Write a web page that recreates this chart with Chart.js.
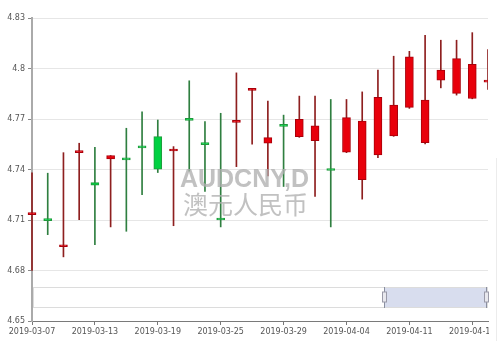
<!DOCTYPE html>
<html>
<head>
<meta charset="utf-8">
<script src="https://cdn.jsdelivr.net/npm/chart.js@4/dist/chart.umd.min.js"></script>
<style>
  html, body { margin: 0; padding: 0; background: #fff; }
  #wrap { width: 500px; height: 341px; position: relative; }
</style>
</head>
<body>
<div id="wrap"><canvas id="c" width="500" height="341"></canvas></div>
<script>
// ---- data ----
const dates = ['2019-03-07','2019-03-08','2019-03-11','2019-03-12','2019-03-13','2019-03-14','2019-03-15',
  '2019-03-18','2019-03-19','2019-03-20','2019-03-21','2019-03-22','2019-03-25','2019-03-26','2019-03-27',
  '2019-03-28','2019-03-29','2019-04-01','2019-04-02','2019-04-03','2019-04-04','2019-04-08','2019-04-09',
  '2019-04-10','2019-04-11','2019-04-12','2019-04-15','2019-04-16','2019-04-17','2019-04-18'];
const openValues  = [4.7132,4.7100,4.6941,4.7500,4.7323,4.7463,4.7469,4.7532,4.7595,4.7510,4.7696,4.7552,4.7104,4.7680,4.7870,
  4.7556,4.7660,4.7595,4.7571,4.7398,4.7503,4.7339,4.7487,4.7599,4.7769,4.7560,4.7931,4.7852,4.7822,4.7919];
const closeValues = [4.7138,4.7096,4.6946,4.7505,4.7307,4.7483,4.7457,4.7528,4.7402,4.7514,4.7692,4.7548,4.7100,4.7684,4.7874,
  4.7589,4.7656,4.7698,4.7660,4.7394,4.7708,4.7688,4.7828,4.7783,4.8069,4.7812,4.7990,4.8059,4.8025,4.7923];
const lowValues   = [4.6800,4.7013,4.6881,4.7102,4.6954,4.7059,4.7033,4.7250,4.7382,4.7066,4.7390,4.7270,4.7059,4.7417,4.7550,
  4.7362,4.7299,4.7591,4.7240,4.7059,4.7500,4.7224,4.7471,4.7597,4.7763,4.7552,4.7885,4.7842,4.7820,4.7876];
const highValues  = [4.7380,4.7378,4.7500,4.7556,4.7532,4.7483,4.7645,4.7743,4.7694,4.7536,4.7927,4.7684,4.7734,4.7974,4.7876,
  4.7806,4.7723,4.7836,4.7836,4.7816,4.7816,4.7861,4.7990,4.8073,4.8102,4.8197,4.8168,4.8168,4.8213,4.8112];
const yTicks = [4.65, 4.68, 4.71, 4.74, 4.77, 4.8, 4.83];
const watermarkLines = ['AUDCNY,D', '澳元人民币'];

// ---- styling ----
const UP_FILL = '#e8000b', UP_EDGE = '#a8000a', UP_WICK = '#8e1f1f';
const DN_FILL = '#00d041', DN_EDGE = '#1f9a3c', DN_WICK = '#2f7f40';
const isUp = i => closeValues[i] >= openValues[i];

const bodies = dates.map((d, i) => [openValues[i], closeValues[i]]);
const wicks = dates.map((d, i) => [lowValues[i], highValues[i]]);

const overlay = {
  id: 'overlay',
  afterDatasetsDraw(chart) {
    const ctx = chart.ctx, a = chart.chartArea;
    ctx.save();
    ctx.fillStyle = 'rgba(175,175,175,0.78)';
    ctx.textAlign = 'center';
    ctx.textBaseline = 'alphabetic';
    const cx = a.left + (a.right - a.left) * 0.466;
    ctx.font = 'bold 25px "Liberation Sans", Arial, sans-serif';
    ctx.fillText(watermarkLines[0], cx, a.top + 169);
    ctx.font = '25px "Noto Sans CJK SC", sans-serif';
    ctx.textBaseline = 'middle';
    ctx.fillText(watermarkLines[1], cx + 1, a.top + 186);
    ctx.restore();
  },
  afterDraw(chart) {
    const ctx = chart.ctx, a = chart.chartArea;
    ctx.save();
    // dataZoom slider
    const top = a.top + 269, h = 20;
    const L = a.left + 1, R = a.right;
    ctx.strokeStyle = '#dcdcdc';
    ctx.lineWidth = 1;
    ctx.strokeRect(L + 0.5, top + 0.5, R - L - 1, h);
    const fl = a.left + (a.right - a.left) * 0.772;
    const fr = a.left + (a.right - a.left) * 0.996;
    ctx.fillStyle = 'rgba(190,198,226,0.6)';
    ctx.fillRect(fl, top + 1, fr - fl, h - 1);
    ctx.strokeStyle = '#8a8fa0';
    [fl, fr].forEach(x => {
      ctx.beginPath();
      ctx.moveTo(Math.round(x) + 0.5, top);
      ctx.lineTo(Math.round(x) + 0.5, top + h + 1);
      ctx.stroke();
      ctx.fillStyle = '#e8e8ee';
      ctx.fillRect(Math.round(x) - 1.5, top + 5, 4, 10);
      ctx.strokeStyle = '#9a9aa8';
      ctx.strokeRect(Math.round(x) - 1.5, top + 5, 4, 10);
      ctx.strokeStyle = '#8a8fa0';
    });
    // cut-off right edge
    ctx.fillStyle = '#ffffff';
    ctx.fillRect(a.right + 1, 0, chart.width - a.right, chart.height);
    ctx.fillStyle = '#ececec';
    ctx.fillRect(a.right + 8, a.top + 140, 1, chart.height);
    ctx.restore();
  }
};

new Chart(document.getElementById('c'), {
  type: 'bar',
  data: {
    labels: dates,
    datasets: [
      {
        label: 'body',
        data: bodies,
        grouped: false,
        barThickness: 8,
        minBarLength: 2,
        borderWidth: 1,
        borderSkipped: false,
        backgroundColor: dates.map((d, i) => isUp(i) ? UP_FILL : DN_FILL),
        borderColor: dates.map((d, i) => isUp(i) ? UP_EDGE : DN_EDGE),
        clip: { left: false, top: 0, right: 0, bottom: 0 }
      },
      {
        label: 'wick',
        data: wicks,
        grouped: false,
        barThickness: 1,
        borderWidth: 0,
        backgroundColor: dates.map((d, i) => isUp(i) ? UP_WICK : DN_WICK),
        clip: { left: false, top: 0, right: 0, bottom: 0 }
      }
    ]
  },
  options: {
    responsive: false,
    animation: false,
    events: [],
    layout: { padding: { top: 18, right: 12, left: 0, bottom: 0 } },
    plugins: { legend: { display: false }, tooltip: { enabled: false } },
    scales: {
      x: {
        type: 'category',
        offset: false,
        grid: {
          offset: false,
          drawOnChartArea: false,
          drawTicks: true,
          tickLength: 4,
          tickColor: c => (c.index % 4 === 0 ? '#777' : 'rgba(0,0,0,0)')
        },
        border: { display: true, color: '#7a7a7a', width: 1 },
        ticks: {
          autoSkip: false,
          maxRotation: 0,
          minRotation: 0,
          padding: 2,
          color: '#555',
          font: { family: '"DejaVu Sans", sans-serif', size: 8 },
          callback: (v, i) => (i % 4 === 0 ? dates[i] : '')
        },
        afterFit: s => { s.height = 20; s.paddingLeft = 0; s.paddingRight = 0; }
      },
      y: {
        min: yTicks[0],
        max: yTicks[yTicks.length - 1],
        afterBuildTicks: s => { s.ticks = yTicks.map(v => ({ value: v })); },
        grid: { color: '#e6e6e6', tickColor: '#888', tickLength: 4, lineWidth: 1 },
        border: { display: true, color: '#aaaaaa', width: 2 },
        ticks: {
          padding: 3,
          color: '#555',
          font: { family: '"DejaVu Sans", sans-serif', size: 8 },
          callback: v => String(+(+v).toFixed(2))
        },
        afterFit: s => { s.width = 32; s.paddingTop = 0; s.paddingBottom = 0; }
      }
    }
  },
  plugins: [overlay]
});
</script>
</body>
</html>
